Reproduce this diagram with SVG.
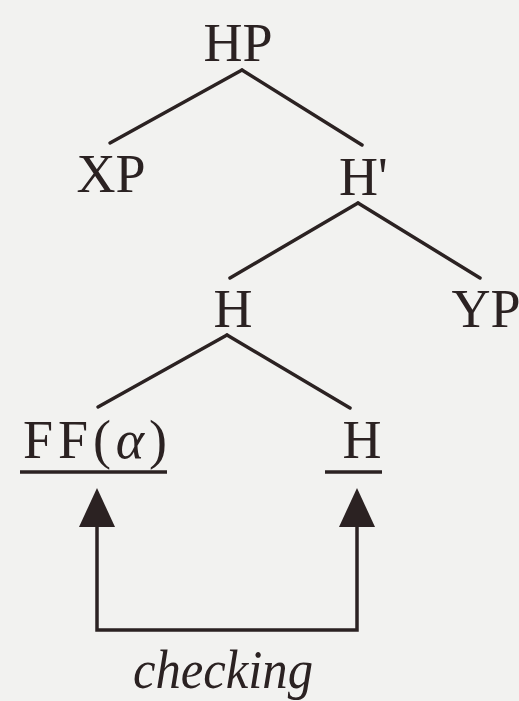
<svg xmlns="http://www.w3.org/2000/svg" width="519" height="701" viewBox="0 0 519 701">
<style>
  .lbl { font-family: "Liberation Serif", "Times New Roman", serif; font-size: 54px; fill: #2b2222; text-anchor: middle; }
  .edge { stroke: #2b2222; stroke-width: 3.5; fill: none; stroke-linecap: round; }
  .chk { stroke: #2b2222; stroke-width: 3.5; fill: none; stroke-linejoin: miter; }
  .ul { stroke: #2b2222; stroke-width: 3.5; }
</style>
<defs>
  <marker id="ah" markerUnits="userSpaceOnUse" viewBox="0 0 39 36" markerWidth="39" markerHeight="36" refX="27" refY="18" orient="auto-start-reverse">
    <path d="M0,0 L39,18 L0,36 z" fill="#2b2222"/>
  </marker>
</defs>
<rect width="519" height="701" fill="#f2f2f0"/>
<g id="connectors">
  <line class="edge" x1="242" y1="70" x2="110" y2="143"/>
  <line class="edge" x1="242" y1="70" x2="362" y2="145"/>
  <line class="edge" x1="358" y1="203" x2="230" y2="278"/>
  <line class="edge" x1="358" y1="203" x2="480" y2="278"/>
  <line class="edge" x1="227" y1="335" x2="98" y2="407"/>
  <line class="edge" x1="227" y1="335" x2="350" y2="408"/>
  <path class="chk" d="M97,500 V630 H357 V500" marker-start="url(#ah)" marker-end="url(#ah)"/>
</g>
<g id="HP"><text class="lbl" x="238" y="61">HP</text></g>
<g id="XP"><text class="lbl" x="111" y="192">XP</text></g>
<g id="Hbar"><text class="lbl" x="339" y="195" style="text-anchor:start">H'</text></g>
<g id="H-mid"><text class="lbl" x="233" y="327">H</text></g>
<g id="YP"><text class="lbl" x="486" y="327">YP</text></g>
<g id="FF-alpha">
  <text class="lbl" x="23" y="458" style="text-anchor:start" textLength="144" lengthAdjust="spacing">FF(<tspan font-style="italic">α</tspan>)</text>
  <line class="ul" x1="20" y1="472" x2="167" y2="472"/>
</g>
<g id="H-low">
  <text class="lbl" x="362" y="458">H</text>
  <line class="ul" x1="325" y1="472" x2="382" y2="472"/>
</g>
<g id="checking"><text class="lbl" x="133" y="688" style="text-anchor:start" font-style="italic" font-size="51" textLength="180" lengthAdjust="spacingAndGlyphs">checking</text></g>
</svg>
